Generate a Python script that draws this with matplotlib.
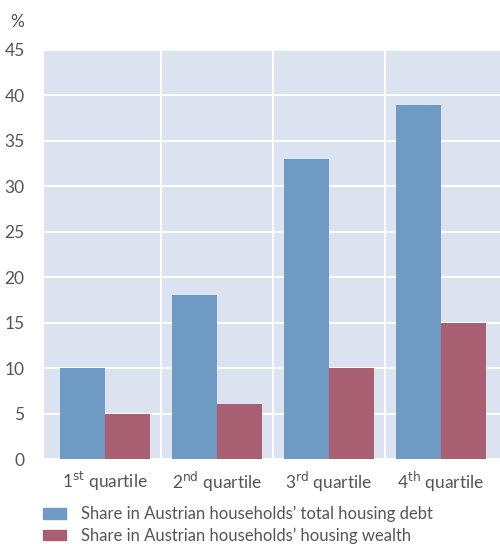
import matplotlib
matplotlib.use("Agg")
import matplotlib.pyplot as plt
from matplotlib.patches import Patch
import numpy as np

plt.rcParams['font.family'] = ['Lato', 'DejaVu Sans']

categories = ["1st", "2nd", "3rd", "4th"]
suffixes = ["st", "nd", "rd", "th"]
debt = [10, 18, 33, 39]
wealth = [5, 6, 10, 15]
series_names = ["Share in Austrian households’ total housing debt",
                "Share in Austrian households’ housing wealth"]
yticks = [0, 5, 10, 15, 20, 25, 30, 35, 40, 45]

blue = "#6f9ac4"
red = "#a85f72"
bg = "#dae3ef"
txt = "#555555"

fig = plt.figure(figsize=(5.0, 5.44), dpi=100)
ax = fig.add_axes([44/500, 1-459/544, 456/500, 409/544])
ax.set_facecolor(bg)

x = np.arange(len(categories))
w = 0.40
ax.bar(x - w/2, debt, width=w, color=blue, zorder=3)
ax.bar(x + w/2, wealth, width=w, color=red, zorder=3)

ax.set_xlim(-0.545, 3.527)
ax.set_ylim(0, 45)
ax.set_yticks(yticks)
ax.set_yticklabels([str(v) for v in yticks], color=txt, fontsize=12.5)
ax.yaxis.grid(True, color="white", linewidth=1.5, zorder=1)
for b in x[:-1] + 0.5:
    ax.axvline(b, color="white", linewidth=1.5, zorder=1)
ax.set_xticks(x)
ax.set_xticklabels([f"{c[0]}$^{{\\mathrm{{{s}}}}}$ quartile" for c, s in zip(categories, suffixes)],
                   color=txt, fontsize=12.5)
ax.tick_params(axis='both', length=0, pad=8)
ax.tick_params(axis='y', pad=14)
for s in ax.spines.values():
    s.set_visible(False)

fig.text(10/500, 1-22/544, "%", color=txt, fontsize=12.5, ha='left', va='center')

handles = [Patch(color=blue), Patch(color=red)]
leg = fig.legend(handles, series_names, loc='upper left', bbox_to_anchor=(43/500, 1-506/544),
                 frameon=False, fontsize=12, handlelength=1.38, handleheight=0.6,
                 handletextpad=0.9, labelspacing=0.3, labelcolor=txt, borderaxespad=0,
                 borderpad=0)

fig.savefig("out.png", dpi=100)
